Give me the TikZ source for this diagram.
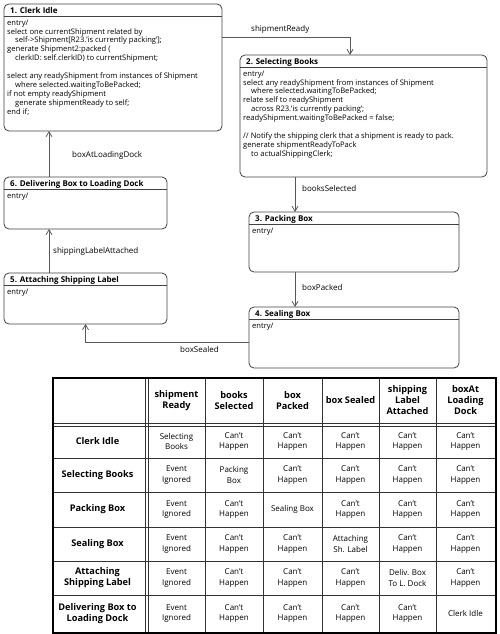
\documentclass[tikz,border=0pt]{standalone}
\usepackage{fontspec}
\setmainfont{Open Sans}
\usetikzlibrary{arrows.meta}
\newcommand\mystate[7]{%
  \node[statebox, minimum width=#4pt, minimum height=#5pt, anchor=north west] (#1) at (#2,#3) {};
  \draw[sepline] ([yshift=-12.5pt]#1.north west) -- ([yshift=-12.5pt]#1.north east);
  \node[stitle, anchor=west] (#1t) at ([xshift=6pt, yshift=-7pt]#1.north west) {#6};
  \node[sbody, anchor=north west] (#1b) at ([xshift=3pt, yshift=-15.5pt]#1.north west) {#7};
}
\begin{document}
\begin{tikzpicture}[x=1pt,y=-1pt,
  statebox/.style={draw=black!75, line width=0.8pt, rounded corners=5pt, inner sep=0pt, outer sep=0pt},
  sepline/.style={draw=black!75, line width=0.8pt},
  stitle/.style={font=\fontsize{8}{9}\selectfont\bfseries, inner sep=0pt},
  sbody/.style={font=\fontsize{7.6}{8.9}\selectfont, align=left, inner sep=0pt},
  trans/.style={draw=black!65, line width=0.8pt, -{Straight Barb[length=5pt,width=6pt]}},
  tlabel/.style={font=\fontsize{8}{9}\selectfont, inner sep=0pt},
  cell/.style={font=\fontsize{8}{10.8}\selectfont, align=center, inner sep=0pt},
  hcell/.style={font=\fontsize{9.2}{11}\selectfont\bfseries, align=center, inner sep=0pt},
  grid/.style={draw=black!80, line width=0.6pt},
]
\useasboundingbox (0,0) rectangle (500,634);

\mystate{s1}{4}{4}{218}{127}{1. Clerk Idle}{entry/\\
select one currentShipment related by\\
\hspace*{8pt}self->Shipment[R23.'is currently packing'];\\
generate Shipment2:packed (\\
\hspace*{8pt}clerkID: self.clerkID) to currentShipment;\\[8.9pt]
select any readyShipment from instances of Shipment\\
\hspace*{8pt}where selected.waitingToBePacked;\\
if not empty readyShipment\\
\hspace*{8pt}generate shipmentReady to self;\\
end if;}

\mystate{s2}{240}{55}{247}{122}{2. Selecting Books}{entry/\\
select any readyShipment from instances of Shipment\\
\hspace*{8pt}where selected.waitingToBePacked;\\
relate self to readyShipment\\
\hspace*{8pt}across R23.'is currently packing';\\
readyShipment.waitingToBePacked = false;\\[8.9pt]
// Notify the shipping clerk that a shipment is ready to pack.\\
generate shipmentReadyToPack\\
\hspace*{8pt}to actualShippingClerk;}

\mystate{s3}{249}{212}{210}{60}{3. Packing Box}{entry/}
\mystate{s4}{249}{307}{210}{61}{4. Sealing Box}{entry/}
\mystate{s6}{4}{177}{163}{52}{6. Delivering Box to Loading Dock}{entry/}
\mystate{s5}{4}{273}{163}{51}{5. Attaching Shipping Label}{entry/}

% transitions
\draw[trans] (s1.east |- 0,37) -| ([xshift=-13.5pt]s2.north);
\node[tlabel, anchor=south west] (l1) at (251,34) {shipmentReady};
\draw[trans] (s2.south -| 295,0) -- (s3.north -| 295,0);
\node[tlabel, anchor=west] (l2) at (302,188) {booksSelected};
\draw[trans] (s3.south -| 295,0) -- (s4.north -| 295,0);
\node[tlabel, anchor=west] (l3) at (302,287) {boxPacked};
\draw[trans] (s4.west |- 0,342) -| (s5.south);
\node[tlabel, anchor=north west] (l4) at (180,346) {boxSealed};
\draw[trans] (s5.north -| 49,0) -- (s6.south -| 49,0);
\node[tlabel, anchor=west] (l5) at (53,251) {shippingLabelAttached};
\draw[trans] (s6.north -| 49,0) -- (s1.south -| 49,0);
\node[tlabel, anchor=west] (l6) at (72,155) {boxAtLoadingDock};

% table
\foreach \x in {205,263,322,379,436} \draw[grid] (\x,377) -- (\x,632);
\foreach \x in {145,148} \draw[grid] (\x,377) -- (\x,632);
\foreach \y in {458,492,527,561,595} \draw[grid] (52,\y) -- (495,\y);
\foreach \y in {423,426} \draw[grid] (52,\y) -- (495,\y);
\node[draw=black, line width=2pt, minimum width=443pt, minimum height=255pt, anchor=north west, inner sep=0pt] (tbl) at (52,377) {};

\node[hcell] (h1) at (176.5,400.5) {shipment\\Ready};
\node[hcell] (h2) at (234,400.5) {books\\Selected};
\node[hcell] (h3) at (292.5,400.5) {box\\Packed};
\node[hcell] (h4) at (350.5,400.5) {box Sealed};
\node[hcell] (h5) at (407.5,400.5) {shipping\\Label\\Attached};
\node[hcell] (h6) at (465.5,400.5) {boxAt\\Loading\\Dock};

\node[hcell] (r1) at (97.5,441.5) {Clerk Idle};
\node[hcell] (r2) at (97.5,475) {Selecting Books};
\node[hcell] (r3) at (97.5,509.5) {Packing Box};
\node[hcell] (r4) at (97.5,544) {Sealing Box};
\node[hcell] (r5) at (97.5,578) {Attaching\\Shipping Label};
\node[hcell] (r6) at (97.5,613.5) {Delivering Box to\\Loading Dock};

% row 1
\node[cell] (c11) at (176.5,441.5) {Selecting\\Books};
\node[cell] (c12) at (234,441.5) {Can’t\\Happen};
\node[cell] (c13) at (292.5,441.5) {Can’t\\Happen};
\node[cell] (c14) at (350.5,441.5) {Can’t\\Happen};
\node[cell] (c15) at (407.5,441.5) {Can’t\\Happen};
\node[cell] (c16) at (465.5,441.5) {Can’t\\Happen};
% row 2
\node[cell] (c21) at (176.5,475) {Event\\Ignored};
\node[cell] (c22) at (234,475) {Packing\\Box};
\node[cell] (c23) at (292.5,475) {Can’t\\Happen};
\node[cell] (c24) at (350.5,475) {Can’t\\Happen};
\node[cell] (c25) at (407.5,475) {Can’t\\Happen};
\node[cell] (c26) at (465.5,475) {Can’t\\Happen};
% row 3
\node[cell] (c31) at (176.5,509.5) {Event\\Ignored};
\node[cell] (c32) at (234,509.5) {Can’t\\Happen};
\node[cell] (c33) at (292.5,509.5) {Sealing Box};
\node[cell] (c34) at (350.5,509.5) {Can’t\\Happen};
\node[cell] (c35) at (407.5,509.5) {Can’t\\Happen};
\node[cell] (c36) at (465.5,509.5) {Can’t\\Happen};
% row 4
\node[cell] (c41) at (176.5,544) {Event\\Ignored};
\node[cell] (c42) at (234,544) {Can’t\\Happen};
\node[cell] (c43) at (292.5,544) {Can’t\\Happen};
\node[cell] (c44) at (350.5,544) {Attaching\\Sh. Label};
\node[cell] (c45) at (407.5,544) {Can’t\\Happen};
\node[cell] (c46) at (465.5,544) {Can’t\\Happen};
% row 5
\node[cell] (c51) at (176.5,578) {Event\\Ignored};
\node[cell] (c52) at (234,578) {Can’t\\Happen};
\node[cell] (c53) at (292.5,578) {Can’t\\Happen};
\node[cell] (c54) at (350.5,578) {Can’t\\Happen};
\node[cell] (c55) at (407.5,578) {Deliv. Box\\To L. Dock};
\node[cell] (c56) at (465.5,578) {Can’t\\Happen};
% row 6
\node[cell] (c61) at (176.5,613.5) {Event\\Ignored};
\node[cell] (c62) at (234,613.5) {Can’t\\Happen};
\node[cell] (c63) at (292.5,613.5) {Can’t\\Happen};
\node[cell] (c64) at (350.5,613.5) {Can’t\\Happen};
\node[cell] (c65) at (407.5,613.5) {Can’t\\Happen};
\node[cell] (c66) at (465.5,613.5) {Clerk Idle};
\end{tikzpicture}
\end{document}
